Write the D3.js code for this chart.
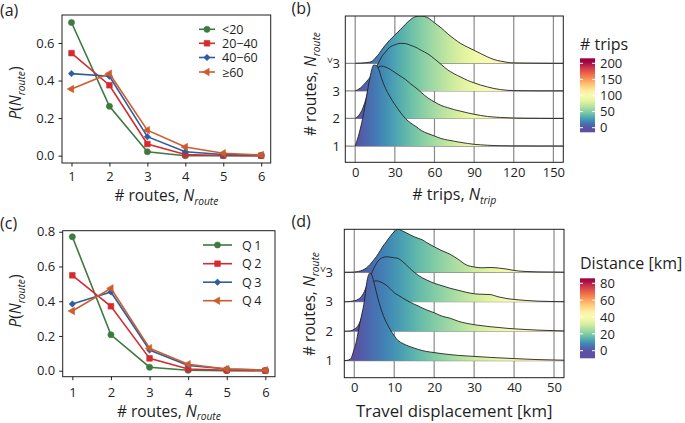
<!DOCTYPE html>
<html><head><meta charset="utf-8">
<script src="https://cdn.jsdelivr.net/npm/d3@7"></script>
<style>
body{margin:0;background:#fff}
svg{display:block}
text{font-family:"Open Sans",sans-serif;fill:#1e1e1e}
</style>
</head><body>
<svg id="chart" width="685" height="423"></svg>
<script>
// ---------------- DATA ----------------
const nRoute = [1, 2, 3, 4, 5, 6];
const yTicksA = [0.0, 0.2, 0.4, 0.6];
const yTicksC = [0.0, 0.2, 0.4, 0.6, 0.8];

const groupsA = ["<20", "20\u221240", "40\u221260", "\u226560"];
const pA_lt20  = [0.709, 0.263, 0.021, 0.000, 0.000, 0.000];
const pA_20_40 = [0.546, 0.375, 0.062, 0.006, 0.001, 0.000];
const pA_40_60 = [0.437, 0.423, 0.101, 0.021, 0.006, 0.002];
const pA_ge60  = [0.355, 0.437, 0.136, 0.046, 0.013, 0.004];

const groupsC = ["Q1", "Q2", "Q3", "Q4"];
const pC_Q1 = [0.771, 0.207, 0.020, 0.003, 0.000, 0.000];
const pC_Q2 = [0.549, 0.371, 0.071, 0.010, 0.003, 0.000];
const pC_Q3 = [0.384, 0.453, 0.119, 0.030, 0.010, 0.003];
const pC_Q4 = [0.344, 0.474, 0.130, 0.037, 0.010, 0.003];

const ridgeRows = ["1", "2", "3", ">3"];

// (b) number of trips: relative density per route-count group
const tripTicks = [0, 30, 60, 90, 120, 150];
const tripGrid  = [0,2,4,6,8,10,12,14,16,18,20,23,26,30,34,38,42,46,50,55,60,65,70,75,80,85,90,95,100,105,110,115,120,130,140,150,157.5];
const tripDens1 = [0,8,18,30,45,60.5,73.5,81,80.5,76,67.5,57.5,50,41.5,34,27.5,23,19.5,15.5,12.5,10,7.5,6,4.8,3.6,2.6,1.7,1.2,0.8,0.5,0.3,0.2,0.1,0.1,0,0,0];
const tripDens2 = [0,2,5.5,11,19,28,37,44,49,51.5,52.3,51.3,49.5,46,42.5,39,34.5,30.5,26,20.5,16.5,13,10.8,8.8,7.2,5.6,4.2,3,2,1.4,1,0.7,0.4,0.2,0.1,0,0];
const tripDens3 = [0,1.2,3,5.5,8.5,11.5,15,19.5,24,29,34,39,43.5,46,47.5,47.3,45.5,43.5,40.5,37,32,26.5,21,17,13.8,10.5,8,5.8,4,2.4,1.3,0.6,0.3,0.1,0,0,0];
const tripDens4 = [0,0.1,0.2,0.4,0.6,1,1.5,3.5,6.5,9.5,13.3,18.5,23,28.3,33.5,39,43.8,46.8,47.3,45.5,40.5,35.5,29.5,24.3,19.7,16.2,13,9.7,6.5,3.8,2.2,1,0.4,0.2,0.1,0,0];
const tripColorTicks = [0, 50, 100, 150, 200];

// (d) travel displacement [km]
const distTicks = [0, 10, 20, 30, 40, 50];
const distGrid  = [-2.5,-2,-1,0,0.5,1,1.5,2,2.5,3,3.5,4,4.5,5,5.5,6,7,8,9,10,11,12,13,14,15,16,17,18,20,22,24,26,28,30,32,34,36,38,40,43,46,50,52.5];
const distDens1 = [0,0.2,1.5,12,19,29.5,39.5,48.5,59,75,85,88,84.5,77,69,61,48,38.5,31,25,20,17.5,15.5,14,12.6,11.3,10.2,9.3,8.1,7.0,6.1,5.3,4.8,4.3,3.8,3.3,2.9,2.5,2.1,1.6,1.1,0.7,0.5];
const distDens2 = [0,0,0.3,2,3.5,6,10,16,24,31,38,43.5,47.5,50,50.5,50,48.5,46,42.5,38.5,36,33.5,31,29,27,25.3,23.3,21.5,18.5,15,13,10,8,6.5,5.5,4.5,3.8,3,2.4,1.7,1.1,0.6,0.3];
const distDens3 = [0,0,0.3,1,1.5,2.5,4,6.5,10,15,20,25,30,34.5,38,41,44,45,44.6,44,43.3,40.5,37,33,29.5,26.5,24,22,18.5,16,13.5,11.5,9.5,8,7.5,7.2,5,3.3,2.3,1.3,0.6,0.2,0.1];
const distDens4 = [0,0,0,0.2,0.5,0.8,1.3,2,3,4.2,6,8,10.5,13,15.5,18.5,25,30.5,36,40.5,43,41.5,39.5,37.5,35.5,34,32.5,30,25.5,21.5,18,13,7.5,5.3,4.5,4.8,4.3,3.3,1.8,0.8,0.4,0.2,0.1];
const distColorTicks = [0, 20, 40, 60, 80];

// ---------------- DRAWING ----------------
const svg = d3.select("#chart");
const defs = svg.append("defs");
const INK = "#1e1e1e";

function richText(parent, parts, size) {
  const t = parent.append("text").attr("font-size", size);
  let inSub = false;
  parts.forEach(([s, it, sub]) => {
    const ts = t.append("tspan").text(s);
    if (it) ts.attr("font-style", "italic");
    if (sub && !inSub) { ts.attr("dy", size * 0.24).attr("font-size", size * 0.66); inSub = true; }
    else if (!sub && inSub) { ts.attr("dy", -size * 0.24); inSub = false; }
  });
  return t;
}

function styleAxis(g, fs) {
  g.select(".domain").remove();
  g.selectAll(".tick line").attr("stroke", INK).attr("stroke-width", 1);
  g.selectAll(".tick text").attr("font-size", fs).attr("fill", INK)
    .style("font-family", '"Open Sans",sans-serif');
}

const markerSyms = [
  {type: d3.symbolCircle, size: 30, rot: 0},
  {type: d3.symbolSquare, size: 32, rot: 0},
  {type: d3.symbolDiamond2, size: 26, rot: 0},
  {type: d3.symbolTriangle, size: 24, rot: -90}
];
const lineColors = ["#3c7a40", "#d62a2f", "#2f5d9e", "#cd5d2e"];

function linePanel(o) {
  const g = svg.append("g");
  const x = d3.scaleLinear().domain([0.75, 6.25]).range([o.l, o.r]);
  const y = d3.scaleLinear().domain(o.yDom).range([o.b, o.t]);

  const ax = g.append("g").attr("transform", `translate(0,${o.b})`)
    .call(d3.axisBottom(x).tickValues(nRoute).tickSize(3.5).tickPadding(o.xpad).tickFormat(d3.format("d")));
  styleAxis(ax, 13);
  const ay = g.append("g").attr("transform", `translate(${o.l},0)`)
    .call(d3.axisLeft(y).tickValues(o.yTicks).tickSize(3.5).tickPadding(4).tickFormat(d3.format(".1f")));
  styleAxis(ay, 13);

  const line = d3.line().x((d, i) => x(nRoute[i])).y(d => y(d));
  o.series.forEach((s, k) => {
    g.append("path").attr("d", line(s)).attr("fill", "none")
      .attr("stroke", lineColors[k]).attr("stroke-width", 1.6);
    const m = markerSyms[k];
    g.selectAll(null).data(s).enter().append("path")
      .attr("d", d3.symbol().type(m.type).size(m.size))
      .attr("transform", (d, i) => `translate(${x(nRoute[i])},${y(d)}) rotate(${m.rot})`)
      .attr("fill", lineColors[k]).attr("stroke", lineColors[k]).attr("stroke-width", 0.6);
  });

  g.append("rect").attr("x", o.l).attr("y", o.t).attr("width", o.r - o.l).attr("height", o.b - o.t)
    .attr("fill", "none").attr("stroke", INK).attr("stroke-width", 1);

  // legend
  o.legend.forEach((name, k) => {
    const ly = o.legY[k];
    g.append("line").attr("x1", o.legX[0]).attr("x2", o.legX[1]).attr("y1", ly).attr("y2", ly)
      .attr("stroke", lineColors[k]).attr("stroke-width", 1.6);
    const m = markerSyms[k];
    g.append("path").attr("d", d3.symbol().type(m.type).size(m.size))
      .attr("transform", `translate(${(o.legX[0] + o.legX[1]) / 2},${ly}) rotate(${m.rot})`)
      .attr("fill", lineColors[k]).attr("stroke", lineColors[k]).attr("stroke-width", 0.6);
    g.append("text").attr("x", o.legTextX).attr("y", ly).attr("dy", "0.36em")
      .attr("font-size", 12.5).attr("letter-spacing", o.legSpacing).text(name);
  });

  // axis titles
  richText(g, [["# routes, "], ["N", true], ["route", true, true]], 15.5)
    .attr("x", (o.l + o.r) / 2).attr("y", o.xTitleY).attr("text-anchor", "middle");
  richText(g, [["P", true], ["("], ["N", true], ["route", true, true], [")"]], 15.5)
    .attr("text-anchor", "middle")
    .attr("transform", `translate(${o.yTitleX},${o.yTitleY}) rotate(-90)`);

  g.append("text").attr("x", 0).attr("y", o.tagY).attr("font-size", 16).text(o.tag);
}

linePanel({
  l: 62, r: 270.7, t: 15, b: 163, yDom: [-0.039, 0.749], yTicks: yTicksA, xpad: 5,
  series: [pA_lt20, pA_20_40, pA_40_60, pA_ge60],
  legend: groupsA, legY: [29.3, 43.3, 57.5, 72], legX: [199, 215], legTextX: 222, legSpacing: 0,
  xTitleY: 201, yTitleX: 21, yTitleY: 93, tag: "(a)", tagY: 16
});
linePanel({
  l: 62.7, r: 275, t: 230.7, b: 376.7, yDom: [-0.0345, 0.806], yTicks: yTicksC, xpad: 7.5,
  series: [pC_Q1, pC_Q2, pC_Q3, pC_Q4],
  legend: groupsC, legY: [245, 263.7, 282.2, 300.7], legX: [203, 232], legTextX: 242, legSpacing: 2.5,
  xTitleY: 416.5, yTitleX: 21, yTitleY: 301, tag: "(c)", tagY: 229
});

// ---------- ridge panels ----------
function spectralR(t) { return d3.interpolateSpectral(1 - t); }

function ridgePanel(o) {
  const g = svg.append("g");
  const x = d3.scaleLinear().domain(o.xDom).range([o.l, o.r]);
  const y = d3.scaleLinear().domain(o.yDom).range([o.b, o.t]);
  const col = d3.scaleSequential(spectralR).domain(o.cDom).clamp(true);

  const gid = "grad" + o.id;
  const grad = defs.append("linearGradient").attr("id", gid)
    .attr("gradientUnits", "userSpaceOnUse")
    .attr("x1", o.l).attr("x2", o.r).attr("y1", 0).attr("y2", 0);
  d3.range(0, 1.0001, 0.02).forEach(f => {
    const v = o.xDom[0] + f * (o.xDom[1] - o.xDom[0]);
    grad.append("stop").attr("offset", f).attr("stop-color", col(v));
  });
  const cid = "clip" + o.id;
  defs.append("clipPath").attr("id", cid).append("rect")
    .attr("x", o.l).attr("y", o.t).attr("width", o.r - o.l).attr("height", o.b - o.t);

  // grid
  const grid = g.append("g");
  o.xTicks.forEach(v => grid.append("line").attr("x1", x(v)).attr("x2", x(v)).attr("y1", o.t).attr("y2", o.b)
    .attr("stroke", "#8a8a8a").attr("stroke-width", 1.2));
  ridgeRows.forEach((r, i) => grid.append("line").attr("x1", o.l).attr("x2", o.r).attr("y1", y(i + 1)).attr("y2", y(i + 1))
    .attr("stroke", "#8a8a8a").attr("stroke-width", 1.2));

  // ridges, top row first so lower ridges overlap
  const rg = g.append("g").attr("clip-path", `url(#${cid})`);
  for (let i = o.dens.length - 1; i >= 0; i--) {
    const row = i + 1, dd = o.dens[i];
    const area = d3.area().curve(d3.curveMonotoneX)
      .x((d, j) => x(o.grid[j])).y0(y(row)).y1(d => y(row + d * o.scale));
    const line = d3.line().curve(d3.curveMonotoneX)
      .x((d, j) => x(o.grid[j])).y(d => y(row + d * o.scale));
    rg.append("path").attr("d", area(dd)).attr("fill", `url(#${gid})`);
    rg.append("path").attr("d", line(dd)).attr("fill", "none").attr("stroke", "#222").attr("stroke-width", 0.9);
  }

  g.append("rect").attr("x", o.l).attr("y", o.t).attr("width", o.r - o.l).attr("height", o.b - o.t)
    .attr("fill", "none").attr("stroke", INK).attr("stroke-width", 1);

  // x tick labels
  const ax = g.append("g").attr("transform", `translate(0,${o.b})`)
    .call(d3.axisBottom(x).tickValues(o.xTicks).tickSize(0).tickPadding(o.xpad));
  styleAxis(ax, 13);
  // y labels
  ridgeRows.forEach((r, i) => {
    const yy = y(i + 1);
    if (r.startsWith(">")) {
      g.append("text").attr("x", o.yLabX).attr("y", yy).attr("dy", "0.36em").attr("text-anchor", "end")
        .attr("font-size", 13).text(r.slice(1));
      g.append("text").attr("font-size", 11).attr("text-anchor", "middle").attr("dy", "0.3em")
        .attr("transform", `translate(${o.yLabX - 11},${yy - 3}) rotate(90)`).text(">");
    } else {
      g.append("text").attr("x", o.yLabX).attr("y", yy).attr("dy", "0.36em").attr("text-anchor", "end")
        .attr("font-size", 13).text(r);
    }
  });

  richText(g, o.xTitle, o.xTitleSize).attr("x", (o.l + o.r) / 2).attr("y", o.xTitleY).attr("text-anchor", "middle");
  richText(g, [["# routes, "], ["N", true], ["route", true, true]], 15.5)
    .attr("text-anchor", "middle")
    .attr("transform", `translate(${o.yTitleX},${o.yTitleY}) rotate(-90)`);
  g.append("text").attr("x", 291.5).attr("y", o.tagY).attr("font-size", 16).text(o.tag);

  // colorbar: labels placed with their own scale, bar coloured by the values it spans
  const cb = o.cbar;
  const cy = d3.scaleLinear().domain([o.cTicks[0], o.cTicks[o.cTicks.length - 1]]).range(cb.labY);
  const vBot = cy.invert(cb.b), vTop = cy.invert(cb.t);
  const cgid = "cgrad" + o.id;
  const cg = defs.append("linearGradient").attr("id", cgid)
    .attr("x1", 0).attr("x2", 0).attr("y1", 1).attr("y2", 0);
  d3.range(0, 1.0001, 0.04).forEach(f => {
    cg.append("stop").attr("offset", f).attr("stop-color", col(vBot + f * (vTop - vBot)));
  });
  g.append("rect").attr("x", cb.l).attr("y", cb.t).attr("width", cb.w).attr("height", cb.b - cb.t)
    .attr("fill", `url(#${cgid})`);
  o.cTicks.forEach(v => {
    const yy = cy(v);
    g.append("line").attr("x1", cb.l).attr("x2", cb.l + 3).attr("y1", yy).attr("y2", yy).attr("stroke", "#fff").attr("stroke-width", 1);
    g.append("line").attr("x1", cb.l + cb.w - 3).attr("x2", cb.l + cb.w).attr("y1", yy).attr("y2", yy).attr("stroke", "#fff").attr("stroke-width", 1);
    g.append("text").attr("x", cb.l + cb.w + 5).attr("y", yy).attr("dy", "0.36em").attr("font-size", 13).text(v);
  });
  g.append("text").attr("x", cb.l).attr("y", cb.titleY).attr("font-size", 16).text(o.cTitle);
}

ridgePanel({
  id: "b", l: 345.3, r: 563.3, t: 16, b: 162.3,
  xDom: [-7.5, 157.5], yDom: [0.41, 5.716], xTicks: tripTicks, xpad: 5,
  grid: tripGrid, dens: [tripDens1, tripDens2, tripDens3, tripDens4], scale: 0.03628,
  cDom: [0, 205], cTicks: tripColorTicks,
  cbar: {l: 580, w: 15, t: 58.3, b: 132.3, labY: [127.7, 63.3], titleY: 50}, cTitle: "# trips",
  yLabX: 340, xTitle: [["# trips, "], ["N", true], ["trip", true, true]], xTitleSize: 16, xTitleY: 200,
  yTitleX: 316, yTitleY: 84, tag: "(b)", tagY: 14
});
ridgePanel({
  id: "d", l: 344.3, r: 564, t: 229.3, b: 377.7,
  xDom: [-2.5, 52.5], yDom: [0.423, 5.459], xTicks: distTicks, xpad: 5,
  grid: distGrid, dens: [distDens1, distDens2, distDens3, distDens4], scale: 0.03393,
  cDom: [0, 84], cTicks: distColorTicks,
  cbar: {l: 580, w: 15, t: 278.3, b: 358.3, labY: [350.7, 283.3], titleY: 269}, cTitle: "Distance [km]",
  yLabX: 333, xTitle: [["Travel displacement [km]"]], xTitleSize: 16.8, xTitleY: 417,
  yTitleX: 315, yTitleY: 304, tag: "(d)", tagY: 226.5
});
</script>
</body></html>
